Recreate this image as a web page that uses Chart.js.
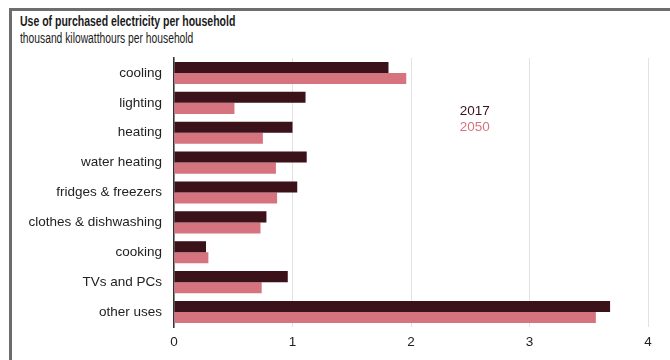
<!DOCTYPE html>
<html>
<head>
<meta charset="utf-8">
<script src="https://cdn.jsdelivr.net/npm/chart.js@4.4.0/dist/chart.umd.min.js"></script>
<style>
  body { margin: 0; background: #fff; }
  #wrap { position: relative; width: 670px; height: 360px; overflow: hidden; }
  #frame { position: absolute; left: 9px; top: 8px; right: -5px; bottom: -5px;
           border-top: 3px solid #6d6d6d; border-left: 3px solid #6d6d6d; }
  /* headings use a narrow look, squeezed horizontally */
  #title, #subtitle { position: absolute; left: 20px; white-space: nowrap; color: #1a1a1a;
                      transform-origin: 0 0; }
  #title { top: 12px; font: bold 15px "Liberation Sans", Arial, sans-serif; transform: scaleX(0.70); }
  #subtitle { top: 30px; font: 14px "Liberation Sans", Arial, sans-serif; transform: scaleX(0.735); }
  canvas { position: absolute; left: 0; top: 0; }
</style>
</head>
<body>
<div id="wrap">
  <div id="frame"></div>
  <div id="title">Use of purchased electricity per household</div>
  <div id="subtitle">thousand kilowatthours per household</div>
  <canvas id="chart" width="670" height="360"></canvas>
</div>
<script>
var categories = ["cooling", "lighting", "heating", "water heating", "fridges & freezers",
                  "clothes & dishwashing", "cooking", "TVs and PCs", "other uses"];
var values2017 = [1.81, 1.11, 1.00, 1.12, 1.04, 0.78, 0.27, 0.96, 3.68];
var values2050 = [1.96, 0.51, 0.75, 0.86, 0.87, 0.73, 0.29, 0.74, 3.56];
var xTicks = [0, 1, 2, 3, 4];

var color2017 = "#3b111a";
var color2050 = "#d5737f";

// series names written inside the plot, in the series colour
var seriesLabels = {
  id: "seriesLabels",
  afterDraw: function (chart) {
    var ctx = chart.ctx;
    var area = chart.chartArea;
    var x = area.left + (area.right - area.left) * 0.603;
    var y = area.top + (area.bottom - area.top) * 0.197;
    ctx.save();
    ctx.font = "13.5px 'Liberation Sans', Arial, sans-serif";
    ctx.textBaseline = "middle";
    ctx.textAlign = "left";
    chart.data.datasets.forEach(function (ds, i) {
      ctx.fillStyle = ds.backgroundColor;
      ctx.fillText(ds.label, x, y + i * 16);
    });
    ctx.restore();
  }
};

var ctx0 = document.getElementById("chart");
var myChart = new Chart(ctx0, {
  type: "bar",
  data: {
    labels: categories,
    datasets: [
      { label: "2017", data: values2017, backgroundColor: color2017 },
      { label: "2050", data: values2050, backgroundColor: color2050 }
    ]
  },
  options: {
    indexAxis: "y",
    responsive: false,
    animation: false,
    layout: { padding: { top: 58, right: 22, bottom: 0, left: 0 } },
    datasets: { bar: { categoryPercentage: 0.74, barPercentage: 1.0 } },
    plugins: {
      legend: { display: false },
      tooltip: { enabled: false }
    },
    scales: {
      x: {
        min: 0,
        max: 4,
        afterBuildTicks: function (scale) {
          scale.ticks = xTicks.map(function (v) { return { value: v }; });
        },
        afterFit: function (scale) { scale.height = 33; },
        grid: { color: "#e2e2e2", lineWidth: 1, drawTicks: false },
        border: { display: false },
        ticks: { padding: 7, color: "#222", font: { family: "'Liberation Sans', Arial, sans-serif", size: 13.5 } }
      },
      y: {
        afterFit: function (scale) { scale.width = 174; },
        grid: { display: false, drawTicks: false },
        border: { display: true, color: "#333", width: 1.5 },
        ticks: { padding: 12, color: "#222", font: { family: "'Liberation Sans', Arial, sans-serif", size: 13.5 } }
      }
    }
  },
  plugins: [seriesLabels]
});
</script>
</body>
</html>
